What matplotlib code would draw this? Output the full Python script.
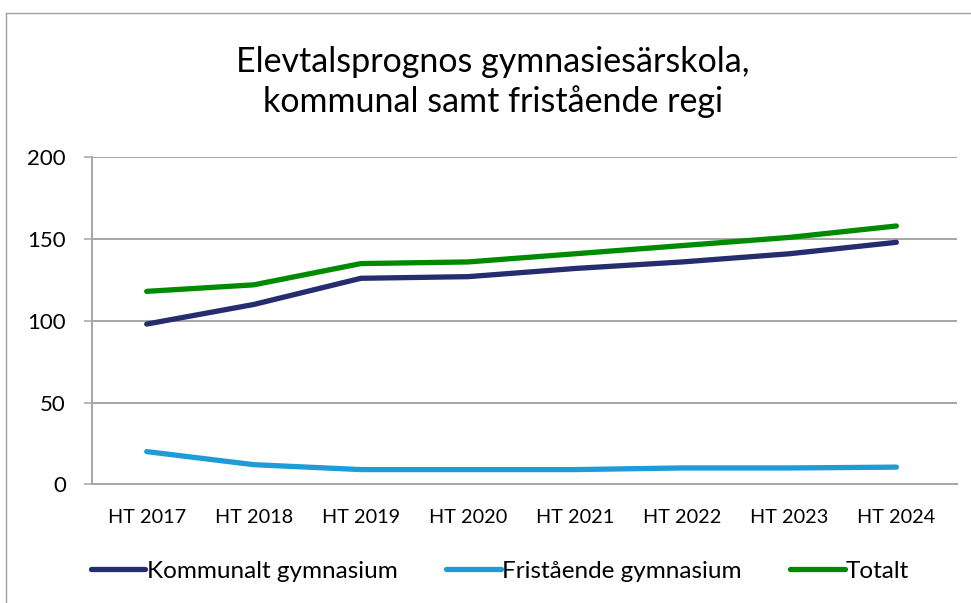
import matplotlib
matplotlib.use("Agg")
import matplotlib.pyplot as plt
from matplotlib.lines import Line2D

categories = ["HT 2017", "HT 2018", "HT 2019", "HT 2020", "HT 2021", "HT 2022", "HT 2023", "HT 2024"]
kommunalt = [98, 110, 126, 127, 132, 136, 141, 148]
fristaende = [20, 12, 9, 9, 9, 10, 10, 10.5]
totalt = [118, 122, 135, 136, 141, 146, 151, 158]
series_names = ["Kommunalt gymnasium", "Fristående gymnasium", "Totalt"]
yticks = [0, 50, 100, 150, 200]
title = "Elevtalsprognos gymnasiesärskola,\nkommunal samt fristående regi"

plt.rcParams['font.family'] = ['Lato', 'DejaVu Sans']

W, H = 971, 603
fig = plt.figure(figsize=(W / 100, H / 100), dpi=100)
ax = fig.add_axes([92.3 / W, 1 - 484.3 / H, (957 - 92.3) / W, (484.3 - 157.3) / H])

colors = ["#262D6E", "#1E9CD8", "#008A00"]
x = list(range(len(categories)))
for vals, name, c in zip([kommunalt, fristaende, totalt], series_names, colors):
    ax.plot(x, vals, color=c, lw=3.8, solid_capstyle='round', label=name)

ax.set_xlim(-0.508, 7.566)
ax.set_ylim(0, 200)
ax.set_yticks(yticks)
ax.set_yticklabels([str(v) for v in yticks])
ax.set_xticks(x)
ax.set_xticklabels(categories)

grid_c = "#A6A6A6"
ax.grid(axis='y', color=grid_c, lw=1.4)
ax.set_axisbelow(True)
for s in ['top', 'right']:
    ax.spines[s].set_visible(False)
ax.spines['left'].set_color(grid_c)
ax.spines['left'].set_linewidth(1.4)
ax.spines['bottom'].set_color(grid_c)
ax.spines['bottom'].set_linewidth(1.4)
ax.tick_params(axis='y', length=6, width=1.1, color=grid_c, pad=13, labelsize=16, labelcolor='black')
ax.tick_params(axis='x', length=0, pad=18, labelsize=14.3, labelcolor='black')

fig.text(493 / W, 1 - 82 / H, title, ha='center', va='center', fontsize=24.5, linespacing=1.3)

leg = fig.legend(loc='center', bbox_to_anchor=(500 / W, 1 - 571 / H), ncol=3, frameon=False,
                 fontsize=17.5, handlelength=2.25, handletextpad=0.05, columnspacing=2.0)

# chart border (top and left visible)
fig.add_artist(Line2D([5.5 / W, 1.0], [1 - 12.5 / H] * 2, color="#A0A0A0", lw=1.0, transform=fig.transFigure))
fig.add_artist(Line2D([5.5 / W] * 2, [0, 1 - 12.5 / H], color="#A0A0A0", lw=1.0, transform=fig.transFigure))

fig.savefig("out.png", dpi=100)
